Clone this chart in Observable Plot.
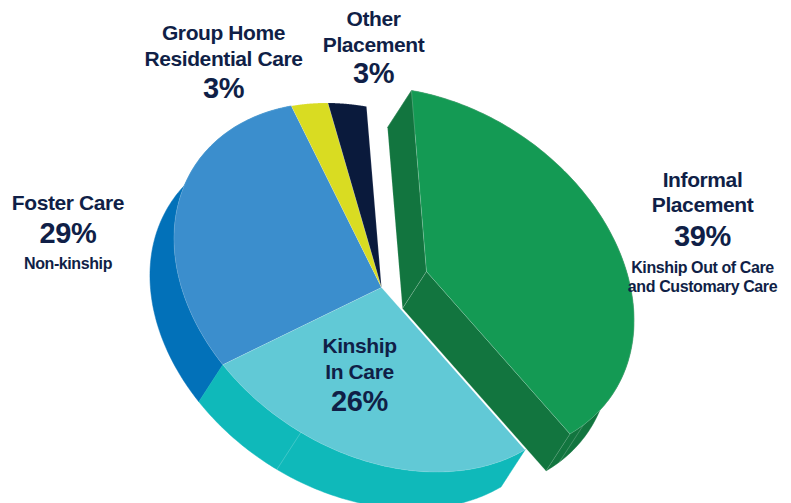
<!DOCTYPE html>
<html>
<head>
<meta charset="utf-8">
<style>html,body{margin:0;padding:0;background:#fff}svg{display:block}</style>
<script src="https://cdn.jsdelivr.net/npm/d3@7"></script>
<script src="https://cdn.jsdelivr.net/npm/@observablehq/plot@0.6"></script>
</head>
<body>
<script>
// Data, clockwise from the top of the pie
const categories = ["Informal Placement", "Kinship In Care", "Foster Care", "Group Home Residential Care", "Other Placement"];
const shares = [39, 26, 29, 3, 3];
const topColors = ["#149a54", "#61c9d6", "#3b8ecd", "#d9dc22", "#0a1a3c"];
const sideColors = ["#12753f", "#0fb9ba", "#0271b9", "#d9dc22", "#0a1a3c"];

// Labels: text lines
const labelLines = ["Group Home", "Residential Care", "3%", "Other", "Placement", "3%", "Foster Care", "29%", "Non-kinship",
  "Informal", "Placement", "39%", "Kinship Out of Care", "and Customary Care", "Kinship", "In Care", "26%"];
const labelKinds = ["name", "name", "pct", "name", "name", "pct", "name", "pct", "note", "name", "name", "pct", "note", "note", "name", "name", "pct"];

// Layout (separate from the values): the tilted-disc view and label anchors
const view = {cx: 381, cy: 287, ax: 207, bx: -15, ay: 36, by: -181, depthX: -24, depthY: 37, explodeX: 45, explodeY: -16};
const rimSeams = [[1, 207], [0, 135]]; // [slice, degrees]
const labelX = [223, 223, 223, 373, 373, 373, 67.5, 67.5, 67.5, 702, 702, 702, 702, 702, 359, 359, 359];
const labelY = [39, 65, 97, 25, 51, 82, 209, 242, 268, 186, 211, 245, 272, 291, 352, 378, 410];
const kindSize = {name: 21, pct: 29, note: 16};

const W = 791, H = 503;
const total = d3.sum(shares);
let acc = 0;
const slices = shares.map((s, i) => {
  const a0 = acc / total * 360; acc += s;
  return {i, a0, a1: acc / total * 360, dx: i === 0 ? view.explodeX : 0, dy: i === 0 ? view.explodeY : 0};
});
const pt = (deg, s, drop = false) => {
  const t = deg * Math.PI / 180;
  return {
    x: view.cx + s.dx + view.ax * Math.sin(t) + view.bx * Math.cos(t) + (drop ? view.depthX : 0),
    y: view.cy + s.dy + view.ay * Math.sin(t) + view.by * Math.cos(t) + (drop ? view.depthY : 0)
  };
};
const apex = (s, drop = false) => ({
  x: view.cx + s.dx + (drop ? view.depthX : 0),
  y: view.cy + s.dy + (drop ? view.depthY : 0)
});
const arc = (s, drop = false) => d3.range(0, 121).map(k => pt(s.a0 + (s.a1 - s.a0) * k / 120, s, drop));
const close = p => [...p, p[0]];

const face = (pts, fill, seam = "#ffffff", op = 0.3) =>
  Plot.line(close(pts), {x: "x", y: "y", fill, stroke: seam, strokeWidth: 0.5, strokeOpacity: op, curve: "linear"});
const topFace = s => face([apex(s), ...arc(s)], topColors[s.i]);
const rimFace = s => face([...arc(s), ...arc(s, true).reverse()], sideColors[s.i], sideColors[s.i], 1);
const seam = ([i, deg]) => Plot.line([pt(deg, slices[i]), pt(deg, slices[i], true)],
  {x: "x", y: "y", stroke: "#ffffff", strokeWidth: 0.5, strokeOpacity: 0.4});

const green = slices[0];
const cutStart = [pt(green.a0, green), apex(green), apex(green, true), pt(green.a0, green, true)];
const cutEnd = [apex(green), pt(green.a1, green), pt(green.a1, green, true), apex(green, true)];

const labels = labelLines.map((text, i) => ({text, x: labelX[i], y: labelY[i], kind: labelKinds[i]}));

const marks = [
  rimFace(slices[2]), rimFace(slices[1]),
  topFace(slices[2]), topFace(slices[3]), topFace(slices[4]), topFace(slices[1]),
  seam(rimSeams[0]),
  rimFace(green),
  face(cutStart, sideColors[0]),
  face(cutEnd, sideColors[0]),
  seam(rimSeams[1]),
  topFace(green),
  ...Object.keys(kindSize).map(kind => Plot.text(labels.filter(d => d.kind === kind), {
    x: "x", y: "y", text: "text", lineAnchor: "bottom", textAnchor: "middle",
    fontSize: kindSize[kind], fontWeight: 700, fontFamily: "Liberation Sans", fill: "#101f47"
  }))
];

document.body.append(Plot.plot({
  width: W, height: H, margin: 0,
  x: {domain: [0, W], range: [0, W], axis: null},
  y: {domain: [0, H], range: [0, H], axis: null},
  style: {background: "#fff", letterSpacing: "-0.4px"},
  marks
}));
</script>
</body>
</html>
